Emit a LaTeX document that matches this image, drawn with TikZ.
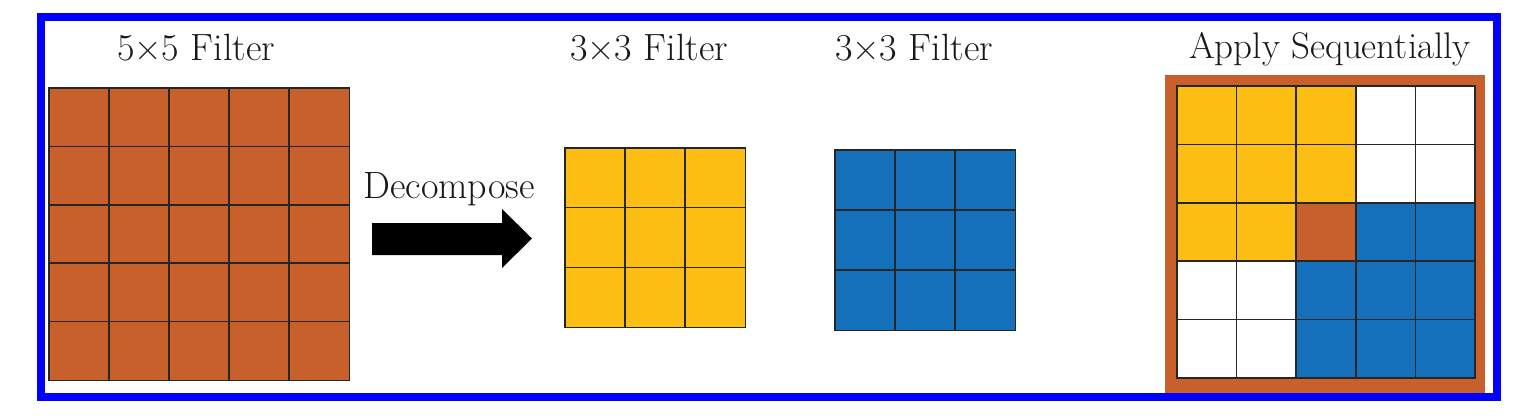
\documentclass[tikz,border=0pt]{standalone}
\usepackage{tikz}
\definecolor{orng}{RGB}{200,96,44}
\definecolor{yel}{RGB}{252,190,18}
\definecolor{blu}{RGB}{20,112,186}
\definecolor{frameblue}{RGB}{0,0,255}
\definecolor{txt}{RGB}{25,25,25}
\tikzset{
  title/.style={anchor=base, text=txt, inner sep=0pt, font=\fontsize{38}{46}\selectfont},
  gridline/.style={draw=black!85, line width=1.5pt},
}
\begin{document}
\begin{tikzpicture}[x=1pt,y=-1pt]
\useasboundingbox (0,0) rectangle (1539,415);
\fill[white] (0,0) rectangle (1539,415);
% outer frame
\draw[frameblue, line width=8pt] (40.5,17) rectangle (1497,397);

% titles
\node[title] (t5) at (196,60) {5×5 Filter};
\node[title] (t3a) at (649,60) {3×3 Filter};
\node[title] (t3b) at (914,60) {3×3 Filter};
\node[title, font=\fontsize{37}{46}\selectfont] (tap) at (1330,58) {Apply Sequentially};

% 5x5 filter
\node[inner sep=0pt, minimum width=300pt, minimum height=292pt, fill=orng, anchor=north west] (g5) at (49,88) {};
\foreach \i in {1,...,4} {
  \draw[gridline] (49+60*\i,88) -- (49+60*\i,380);
  \draw[gridline] (49,88+58.4*\i) -- (349,88+58.4*\i);
}
\draw[gridline] (g5.north west) rectangle (g5.south east);

% decompose arrow
\node[title] (dec) at (449,198) {Decompose};
\fill[black] (372,223) -- (502,223) -- (502,209) -- (532,238.5) -- (502,268) -- (502,255) -- (372,255) -- cycle;

% yellow 3x3
\node[inner sep=0pt, minimum width=180pt, minimum height=179pt, fill=yel, anchor=north west] (gy) at (565,148) {};
\foreach \i in {1,2} {
  \draw[gridline] (565+60*\i,148) -- (565+60*\i,327);
  \draw[gridline] (565,148+59.67*\i) -- (745,148+59.67*\i);
}
\draw[gridline] (gy.north west) rectangle (gy.south east);

% blue 3x3
\node[inner sep=0pt, minimum width=180pt, minimum height=180pt, fill=blu, anchor=north west] (gb) at (835,150) {};
\foreach \i in {1,2} {
  \draw[gridline] (835+60*\i,150) -- (835+60*\i,330);
  \draw[gridline] (835,150+60*\i) -- (1015,150+60*\i);
}
\draw[gridline] (gb.north west) rectangle (gb.south east);

% apply sequentially
\node[inner sep=0pt, minimum width=320pt, minimum height=318pt, fill=orng, anchor=north west] (ga) at (1165,75) {};
\fill[white] (1177,86) rectangle (1475,378);
\fill[yel] (1177,86) rectangle (1356,261.2);
\fill[blu] (1296,202.8) rectangle (1475,378);
\fill[orng] (1296,202.8) rectangle (1356,261.2);
\foreach \i in {1,...,4} {
  \draw[gridline] (1177+59.6*\i,86) -- (1177+59.6*\i,378);
  \draw[gridline] (1177,86+58.4*\i) -- (1475,86+58.4*\i);
}
\draw[gridline] (1177,86) rectangle (1475,378);
\end{tikzpicture}
\end{document}
